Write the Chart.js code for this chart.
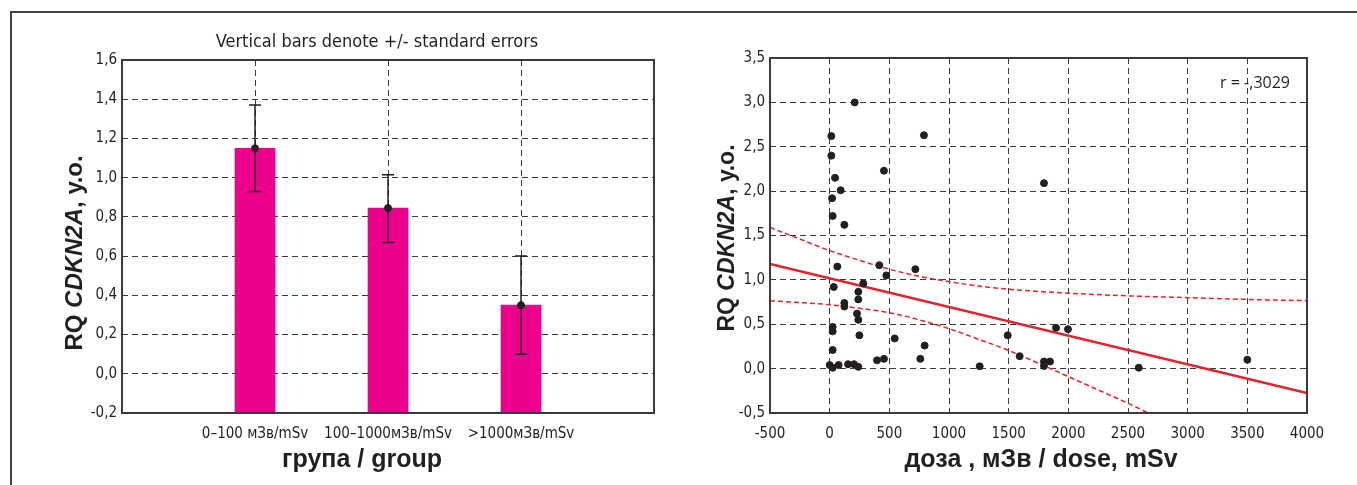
<!DOCTYPE html>
<html>
<head>
<meta charset="utf-8">
<script src="https://cdn.jsdelivr.net/npm/chart.js@4.4.0/dist/chart.umd.min.js"></script>
<style>
    body { margin: 0; background: #fff; width: 1357px; height: 485px; overflow: hidden; position: relative; }
    #frame { position: absolute; left: 10px; top: 11px; width: 1400px; height: 500px; border-left: 2px solid #444; border-top: 2px solid #444; }
    #left-wrap { position: absolute; left: 0; top: 0; width: 680px; height: 485px; }
    #right-wrap { position: absolute; left: 680px; top: 0; width: 677px; height: 485px; }
</style>
</head>
<body>
<div id="frame"></div>
<div id="left-wrap"><canvas id="group-chart" width="680" height="485"></canvas></div>
<div id="right-wrap"><canvas id="dose-chart" width="677" height="485"></canvas></div>
<script>
// Left chart: mean RQ per dose group with standard errors
const groupLabels = ['0–100 мЗв/mSv', '100–1000мЗв/mSv', '>1000мЗв/mSv'];
const groupMeans = [1.15, 0.845, 0.35];
const groupErrLow = [0.93, 0.67, 0.10];
const groupErrHigh = [1.37, 1.015, 0.60];

// Right chart: individual values vs dose
const doseX = [210, 14, 790, 14, 455, 45, 92, 20, 1796, 25, 123, 64, 416, 718, 475, 282, 34, 240, 240, 123,
    123, 229, 240, 25, 25, 249, 545, 1492, 796, 25, 1592, 397, 455, 760, 0, 25, 75, 154, 204, 240,
    1257, 1796, 1796, 1846, 1897, 1997, 2590, 3500];
const rqY = [3.0, 2.62, 2.63, 2.40, 2.23, 2.15, 2.01, 1.92, 2.09, 1.72, 1.62, 1.15, 1.165, 1.12, 1.05, 0.96, 0.92, 0.865, 0.78, 0.74,
    0.70, 0.62, 0.55, 0.47, 0.42, 0.375, 0.34, 0.375, 0.26, 0.21, 0.14, 0.094, 0.11, 0.11, 0.04, 0.01, 0.04, 0.05, 0.05, 0.02,
    0.026, 0.08, 0.03, 0.08, 0.46, 0.445, 0.01, 0.10];

// Regression line and confidence band
const fitX = [-500, 4000];
const fitY = [1.18, -0.275];
const upperX = [-500, -250, 0, 250, 500, 750, 1000, 1250, 1500, 2000, 2500, 3000, 3500, 4000];
const upperY = [1.59, 1.46, 1.33, 1.22, 1.12, 1.04, 0.98, 0.93, 0.895, 0.85, 0.82, 0.80, 0.78, 0.765];
const lowerX = [-500, -250, 0, 250, 500, 750, 1000, 1250, 1500, 1750, 2000, 2250, 2500, 2670];
const lowerY = [0.765, 0.745, 0.72, 0.68, 0.63, 0.55, 0.45, 0.33, 0.205, 0.06, -0.09, -0.24, -0.39, -0.5];

const Y1_MIN = -0.2, Y1_MAX = 1.6;
const pairs = (xs, ys) => xs.map((x, i) => ({ x: x, y: ys[i] }));

const TICK_FONT = { family: "'Liberation Sans Narrow', 'DejaVu Sans Condensed', sans-serif", size: 15 };
const INK = '#231f20';
const RED = '#e3232b';
const commaFmt = v => v.toFixed(1).replace('.', ',');

const gridStyle = { color: '#3a3a3a', lineWidth: 1, drawTicks: false };
const borderStyle = { display: false, dash: [6, 4] };

// Textes (titres des axes) dessinés sur le canvas
function textPlugin(items) {
    return {
        id: 'texts',
        afterDraw(chart) {
            const ctx = chart.ctx;
            items.forEach(it => {
                ctx.save();
                ctx.translate(it.x, it.y);
                if (it.rotate) ctx.rotate(it.rotate);
                ctx.fillStyle = INK;
                ctx.textBaseline = 'middle';
                ctx.textAlign = 'left';
                let total = 0;
                it.parts.forEach(p => { ctx.font = p.font; total += ctx.measureText(p.text).width; });
                let x = it.align === 'right' ? -total : -total / 2;
                it.parts.forEach(p => {
                    ctx.font = p.font;
                    ctx.fillText(p.text, x, 0);
                    x += ctx.measureText(p.text).width;
                });
                ctx.restore();
            });
        }
    };
}

const framePlugin = {
    id: 'frame',
    afterDatasetsDraw(chart) {
        const { left, top, right, bottom } = chart.chartArea;
        const ctx = chart.ctx;
        ctx.save();
        ctx.strokeStyle = '#3a3a3a';
        ctx.lineWidth = 2;
        ctx.strokeRect(left, top, right - left, bottom - top);
        ctx.restore();
    }
};

const errorBarPlugin = {
    id: 'errorBars',
    afterDatasetsDraw(chart) {
        const ctx = chart.ctx;
        const xs = chart.scales.x, ys = chart.scales.y;
        ctx.save();
        ctx.strokeStyle = INK;
        ctx.lineWidth = 1.5;
        groupMeans.forEach((m, i) => {
            const px = xs.getPixelForValue(i + 1);
            const lo = ys.getPixelForValue(groupErrLow[i]);
            const hi = ys.getPixelForValue(groupErrHigh[i]);
            ctx.beginPath();
            ctx.moveTo(px, lo); ctx.lineTo(px, hi);
            ctx.moveTo(px - 6, lo); ctx.lineTo(px + 6, lo);
            ctx.moveTo(px - 6, hi); ctx.lineTo(px + 6, hi);
            ctx.stroke();
        });
        ctx.restore();
    }
};

const BOLD = "bold 24px 'Liberation Sans', Arial, sans-serif";
const BOLD_IT = "italic bold 24px 'Liberation Sans', Arial, sans-serif";

const groupChart = new Chart(document.getElementById('group-chart'), {
    type: 'scatter',
    data: {
        datasets: [
            {
                label: 'mean',
                data: pairs([1, 2, 3], groupMeans),
                backgroundColor: INK,
                borderColor: INK,
                pointRadius: 3.5
            },
            {
                type: 'bar',
                label: 'RQ',
                data: pairs([1, 2, 3], groupMeans),
                base: Y1_MIN,
                backgroundColor: '#ec008c',
                barThickness: 40
            }
        ]
    },
    options: {
        animation: false,
        responsive: false,
        layout: { padding: { left: 0, right: 26, top: 60, bottom: 0 } },
        plugins: { legend: { display: false }, tooltip: { enabled: false } },
        scales: {
            x: {
                type: 'linear', min: 0, max: 4, offset: false,
                afterBuildTicks: axis => { axis.ticks = groupLabels.map((_, i) => ({ value: i + 1 })); },
                afterFit: axis => { axis.height = 72; },
                grid: { ...gridStyle, offset: false },
                border: borderStyle,
                ticks: { font: TICK_FONT, color: INK, padding: 12, autoSkip: false, maxRotation: 0,
                    callback: v => groupLabels[v - 1] }
            },
            y: {
                min: Y1_MIN, max: Y1_MAX,
                afterFit: axis => { axis.width = 122; },
                grid: gridStyle,
                border: borderStyle,
                ticks: { font: TICK_FONT, color: INK, padding: 5, stepSize: 0.2, callback: commaFmt }
            }
        }
    },
    plugins: [errorBarPlugin, framePlugin, textPlugin([
        { x: 377, y: 42, parts: [{ text: 'Vertical bars denote +/- standard errors', font: "18px 'Liberation Sans Narrow', 'DejaVu Sans Condensed', sans-serif" }] },
        { x: 362, y: 460, parts: [{ text: 'група / group', font: "bold 25px 'Liberation Sans', Arial, sans-serif" }] },
        { x: 75, y: 253, rotate: -Math.PI / 2, parts: [
            { text: 'RQ ', font: BOLD }, { text: 'CDKN2A', font: BOLD_IT }, { text: ', у.о.', font: BOLD }] }
    ])]
});

const doseChart = new Chart(document.getElementById('dose-chart'), {
    type: 'scatter',
    data: {
        datasets: [
            {
                label: 'RQ',
                data: pairs(doseX, rqY),
                backgroundColor: INK,
                borderColor: INK,
                pointRadius: 3.5
            },
            {
                type: 'line',
                label: 'fit',
                data: pairs(fitX, fitY),
                borderColor: RED,
                borderWidth: 2.5,
                pointRadius: 0
            },
            {
                type: 'line',
                label: 'upper',
                data: pairs(upperX, upperY),
                borderColor: RED,
                borderWidth: 1.5,
                borderDash: [5, 3],
                cubicInterpolationMode: 'monotone',
                pointRadius: 0
            },
            {
                type: 'line',
                label: 'lower',
                data: pairs(lowerX, lowerY),
                borderColor: RED,
                borderWidth: 1.5,
                borderDash: [5, 3],
                cubicInterpolationMode: 'monotone',
                pointRadius: 0
            }
        ]
    },
    options: {
        animation: false,
        responsive: false,
        layout: { padding: { left: 0, right: 50, top: 58, bottom: 0 } },
        plugins: { legend: { display: false }, tooltip: { enabled: false } },
        scales: {
            x: {
                type: 'linear', min: -500, max: 4000,
                afterFit: axis => { axis.height = 72; },
                grid: gridStyle,
                border: borderStyle,
                ticks: { font: TICK_FONT, color: INK, padding: 12, stepSize: 500, maxRotation: 0,
                    callback: v => String(v) }
            },
            y: {
                min: -0.5, max: 3.5,
                afterFit: axis => { axis.width = 90; },
                grid: gridStyle,
                border: borderStyle,
                ticks: { font: TICK_FONT, color: INK, padding: 5, stepSize: 0.5, callback: commaFmt }
            }
        }
    },
    plugins: [framePlugin, textPlugin([
        { x: 610, y: 83, align: 'right', parts: [{ text: 'r = -,3029', font: "16px 'Open Sans', sans-serif" }] },
        { x: 361, y: 460, parts: [{ text: 'доза , мЗв / dose, mSv', font: "bold 25px 'Liberation Sans', Arial, sans-serif" }] },
        { x: 48, y: 238, rotate: -Math.PI / 2, parts: [
            { text: 'RQ ', font: "bold 23px 'Liberation Sans', Arial, sans-serif" },
            { text: 'CDKN2A', font: "italic bold 23px 'Liberation Sans', Arial, sans-serif" },
            { text: ', у.о.', font: "bold 23px 'Liberation Sans', Arial, sans-serif" }] }
    ])]
});
</script>
</body>
</html>
